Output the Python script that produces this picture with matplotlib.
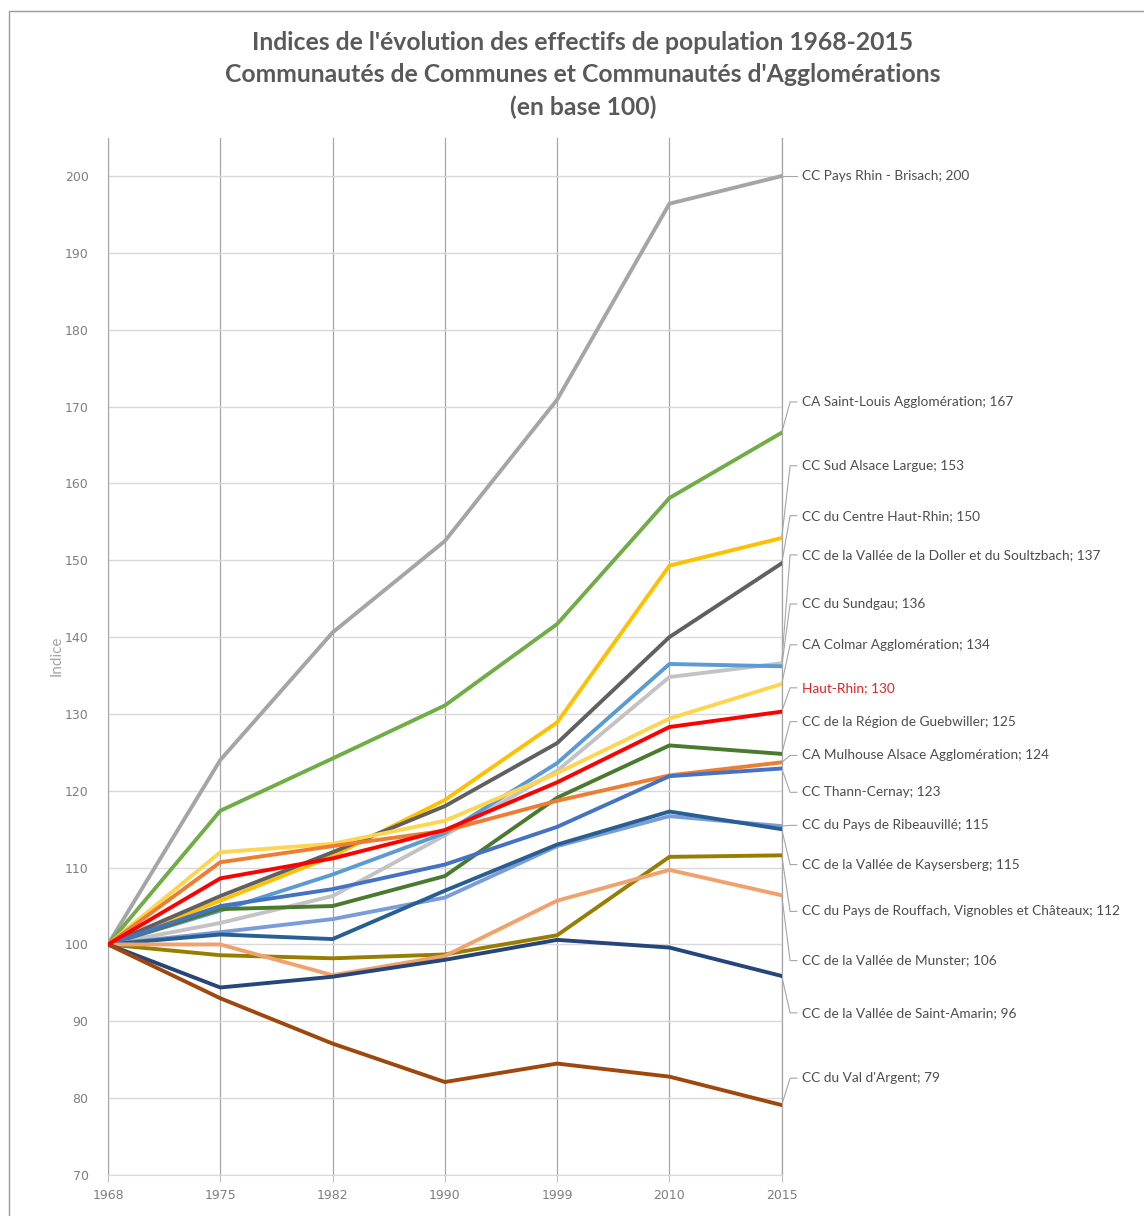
"""Indices de l'évolution des effectifs de population 1968-2015 (Haut-Rhin, base 100)."""

import matplotlib

matplotlib.use("Agg")
import matplotlib.pyplot as plt
from matplotlib.patches import Rectangle

# --- data (index, base 100 in 1968) -------------------------------------
years = ["1968", "1975", "1982", "1990", "1999", "2010", "2015"]

rhin_brisach = [100, 124.0, 140.6, 152.5, 170.9, 196.4, 200.0]
saint_louis = [100, 117.4, 124.2, 131.1, 141.7, 158.1, 166.6]
sud_alsace_largue = [100, 105.7, 111.5, 118.8, 128.9, 149.3, 152.9]
centre_haut_rhin = [100, 106.3, 112.0, 118.0, 126.2, 140.0, 149.6]
doller_soultzbach = [100, 102.8, 106.3, 114.2, 122.6, 134.8, 136.6]
sundgau = [100, 104.4, 109.1, 114.5, 123.6, 136.5, 136.2]
colmar = [100, 112.0, 113.1, 116.1, 122.3, 129.4, 133.9]
haut_rhin = [100, 108.6, 111.2, 114.9, 121.1, 128.3, 130.3]
guebwiller = [100, 104.6, 105.0, 108.9, 119.1, 125.9, 124.8]
mulhouse = [100, 110.7, 112.8, 114.8, 118.7, 122.0, 123.7]
thann_cernay = [100, 105.0, 107.2, 110.4, 115.3, 121.9, 122.9]
ribeauville = [100, 101.6, 103.3, 106.1, 112.8, 116.7, 115.4]
kaysersberg = [100, 101.3, 100.7, 107.0, 113.0, 117.3, 115.0]
rouffach = [100, 98.6, 98.2, 98.7, 101.2, 111.4, 111.6]
munster = [100, 100.0, 96.0, 98.5, 105.7, 109.7, 106.4]
saint_amarin = [100, 94.4, 95.8, 98.0, 100.6, 99.6, 95.9]
val_argent = [100, 93.0, 87.1, 82.1, 84.5, 82.8, 79.1]

names = [
    "CC Pays Rhin - Brisach",
    "CA Saint-Louis Agglomération",
    "CC Sud Alsace Largue",
    "CC du Centre Haut-Rhin",
    "CC de la Vallée de la Doller et du Soultzbach",
    "CC du Sundgau",
    "CA Colmar Agglomération",
    "Haut-Rhin",
    "CC de la Région de Guebwiller",
    "CA Mulhouse Alsace Agglomération",
    "CC Thann-Cernay",
    "CC du Pays de Ribeauvillé",
    "CC de la Vallée de Kaysersberg",
    "CC du Pays de Rouffach, Vignobles et Châteaux",
    "CC de la Vallée de Munster",
    "CC de la Vallée de Saint-Amarin",
    "CC du Val d'Argent",
]
values = [
    rhin_brisach, saint_louis, sud_alsace_largue, centre_haut_rhin,
    doller_soultzbach, sundgau, colmar, haut_rhin, guebwiller, mulhouse,
    thann_cernay, ribeauville, kaysersberg, rouffach, munster,
    saint_amarin, val_argent,
]

# --- style / layout -------------------------------------------------------
colors = [
    "#A5A5A5", "#70AD47", "#FFC000", "#606060", "#C3C3C3", "#5B9BD5",
    "#FFD54F", "#FF0000", "#4A7A2E", "#ED7D31", "#4472C4", "#7A9CD9",
    "#285F93", "#977E00", "#F1A26C", "#26457A", "#9E480E",
]
# vertical position of each end label (in index units)
label_pos = [200.0, 170.6, 162.3, 155.8, 150.7, 144.3, 139.0, 133.4, 129.0,
             124.6, 119.8, 115.5, 110.4, 104.3, 97.9, 91.1, 82.6]

title_lines = [
    "Indices de l'évolution des effectifs de population 1968-2015",
    "Communautés de Communes et Communautés d'Agglomérations",
    "(en base 100)",
]

FONT = ["Lato", "DejaVu Sans"]
W, H = 1144, 1216


def main():
    fig = plt.figure(figsize=(W / 100, H / 100), dpi=100)
    ax = fig.add_axes([108 / W, 1 - 1175 / H, (781.7 - 108) / W, (1175 - 137.6) / H])

    # chart border
    fig.patches.append(
        Rectangle((9 / W, -0.01), 1.0, 1 - 11 / H + 0.01, transform=fig.transFigure,
                  fill=False, edgecolor="#9A9A9A", linewidth=1.0)
    )

    x = list(range(len(years)))
    n = len(names)
    order = [i for i in range(n) if names[i] != "Haut-Rhin"] + [names.index("Haut-Rhin")]
    for i in order:
        ax.plot(x, values[i], color=colors[i], linewidth=2.8, solid_joinstyle="round",
                zorder=3 + (1 if names[i] == "Haut-Rhin" else 0))

    # end labels with leader lines
    for i in range(n):
        end = values[i][-1]
        ly = label_pos[i]
        ax.plot([x[-1], x[-1] + 0.075, x[-1] + 0.135], [end, ly, ly],
                color="#A6A6A6", linewidth=0.8, clip_on=False, zorder=2)
        txt_color = "#E02424" if names[i] == "Haut-Rhin" else "#4D4D4D"
        ax.text(x[-1] + 0.18, ly, f"{names[i]}; {round(end)}", ha="left", va="center",
                fontsize=9.8, color=txt_color, family=FONT, clip_on=False)

    ax.set_xlim(0, len(years) - 1)
    ax.set_ylim(70, 205)
    ax.set_xticks(x)
    ax.set_xticklabels(years)
    ax.set_yticks(range(70, 201, 10))

    ax.set_axisbelow(True)
    ax.yaxis.grid(True, color="#D9D9D9", linewidth=1.0)
    ax.xaxis.grid(True, color="#A6A6A6", linewidth=0.9)

    ax.spines["top"].set_visible(False)
    ax.spines["left"].set_color("#A6A6A6")
    ax.spines["right"].set_color("#A6A6A6")
    ax.spines["right"].set_linewidth(0.9)
    ax.spines["bottom"].set_color("#D9D9D9")

    ax.tick_params(axis="x", direction="out", length=5, color="#BFBFBF",
                   labelcolor="#7F7F7F", labelsize=9, pad=5)
    ax.tick_params(axis="y", length=0, labelcolor="#7F7F7F", labelsize=9, pad=14)

    ax.set_ylabel("Indice", fontsize=11, color="#A6A6A6", family=FONT, labelpad=1)

    for k, line in enumerate(title_lines):
        fig.text(583 / W, 1 - (43 + 32 * k) / H, line, ha="center", va="center",
                 fontsize=17.8, fontweight="bold", color="#595959", family=FONT)

    fig.savefig("out.png", dpi=100)
    plt.close(fig)


if __name__ == "__main__":
    main()
